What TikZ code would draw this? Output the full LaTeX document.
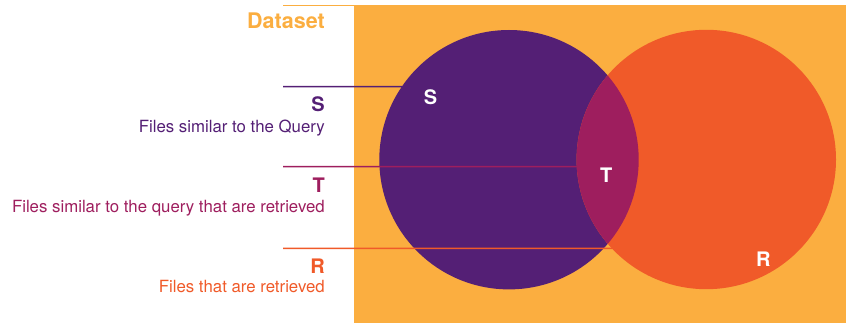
\documentclass[tikz,border=0pt]{standalone}
\usepackage{fontspec}
\setmainfont{TeX Gyre Heros}
\usetikzlibrary{calc}
\definecolor{dataorange}{HTML}{FBAE40}
\definecolor{simpurple}{HTML}{541F75}
\definecolor{retorange}{HTML}{F05A29}
\definecolor{bothmag}{HTML}{9E1E5E}
\tikzset{
  setcircle/.style={circle, minimum size=259.4pt, inner sep=0pt, outer sep=0pt},
  inlabel/.style={text=white, font=\fontsize{20}{22}\selectfont\bfseries, anchor=base, inner sep=0pt},
  keyletter/.style={font=\fontsize{20}{22}\selectfont\bfseries, anchor=base east, inner sep=0pt},
  keytext/.style={font=\fontsize{16.8}{19}\selectfont, anchor=base east, inner sep=0pt},
  leader/.style={line width=1.5pt},
}
\begin{document}
\begin{tikzpicture}[x=1pt,y=-1pt]
  \useasboundingbox (0,0) rectangle (846,323);

  % dataset area
  \node[fill=dataorange, minimum width=492pt, minimum height=318pt, inner sep=0pt, outer sep=0pt, anchor=north west] (box) at (354,5) {};
  \coordinate (topleft) at (283,5.7);
  \draw[dataorange, leader] (topleft) -- (topleft -| box.west);
  \node[text=dataorange, font=\fontsize{21.5}{24}\selectfont\bfseries, anchor=base east, inner sep=0pt] (dataset) at (325,28.3) {Dataset};

  % the two sets and their overlap
  \node[setcircle, fill=simpurple] (S) at (509,159.7) {};
  \node[setcircle, fill=retorange] (R) at (706.3,159.5) {};
  \begin{scope}
    \clip (509,159.7) circle[radius=129.7pt];
    \fill[bothmag] (706.3,159.5) circle[radius=129.7pt];
  \end{scope}

  \node[inlabel] (sin) at (430.5,105) {S};
  \node[inlabel] (tin) at (606.3,183) {T};
  \node[inlabel] (rin) at (763.3,266) {R};

  % leader lines, each ending on a circle's rim
  \coordinate (sl) at (283,86.7);
  \coordinate (tl) at (283,166.7);
  \coordinate (rl) at (283,248.3);
  \coordinate (sEdge) at ($(S.center)+(145.74:129.7pt)$);
  \coordinate (tEdge) at ($(R.center)+(183.18:129.7pt)$);
  \coordinate (rEdge) at ($(R.center)+(223.2:129.7pt)$);
  \draw[simpurple, leader] (sl) -- (sEdge);
  \draw[bothmag, leader] (tl) -- (tEdge);
  \draw[retorange, leader] (rl) -- (rEdge);

  % key
  \node[keyletter, text=simpurple] (skey) at (325,111.5) {S};
  \node[keytext, text=simpurple] (sdesc) at (325,133) {Files similar to the Query};
  \node[keyletter, text=bothmag] (tkey) at (325,193) {T};
  \node[keytext, text=bothmag] (tdesc) at (325,212.3) {Files similar to the query that are retrieved};
  \node[keyletter, text=retorange] (rkey) at (325,273) {R};
  \node[keytext, text=retorange] (rdesc) at (325,292.3) {Files that are retrieved};
\end{tikzpicture}
\end{document}
